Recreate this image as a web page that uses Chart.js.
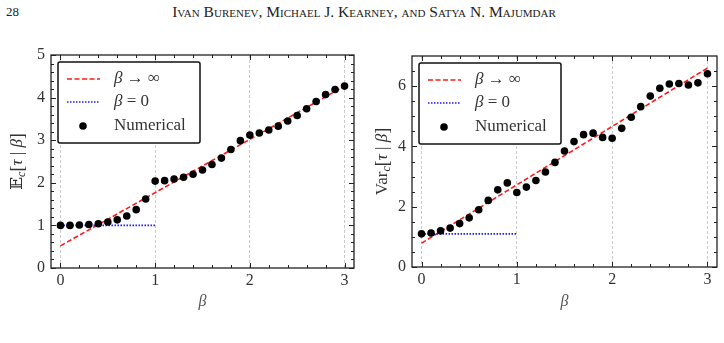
<!DOCTYPE html>
<html>
<head>
<meta charset="utf-8">
<script src="https://cdn.jsdelivr.net/npm/chart.js@4.4.0/dist/chart.umd.min.js"></script>
<style>
  body { margin: 0; background: #fff; width: 724px; height: 343px; overflow: hidden; position: relative; font-family: "Liberation Serif", serif; color: #222; }
  #pg { position: absolute; left: 6px; top: 4px; font-size: 13px; }
  #hd { position: absolute; left: 0; width: 728px; top: 3px; text-align: center; font-size: 15.5px; font-variant: small-caps; }
  .box { position: absolute; top: 0; width: 362px; height: 343px; }
</style>
</head>
<body>
<div id="pg">28</div>
<div id="hd">Ivan Burenev, Michael J. Kearney, and Satya N. Majumdar</div>
<div class="box" style="left:0"><canvas id="c1"></canvas></div>
<div class="box" style="left:362px"><canvas id="c2"></canvas></div>
<script>
const beta = [0, 0.1, 0.2, 0.3, 0.4, 0.5, 0.6, 0.7, 0.8, 0.9, 1.0, 1.1, 1.2, 1.3, 1.4, 1.5,
  1.6, 1.7, 1.8, 1.9, 2.0, 2.1, 2.2, 2.3, 2.4, 2.5, 2.6, 2.7, 2.8, 2.9, 3.0];

// left panel: mean
const meanNum = [1.0, 1.0, 1.01, 1.02, 1.04, 1.08, 1.13, 1.22, 1.37, 1.62, 2.04, 2.05, 2.09, 2.13, 2.2, 2.3,
  2.43, 2.58, 2.78, 2.99, 3.12, 3.17, 3.24, 3.33, 3.45, 3.58, 3.74, 3.91, 4.07, 4.19, 4.27];
const meanInfX = [0, 3];
const meanInfY = [0.52, 4.27];
const meanZeroX = [0, 1];
const meanZeroY = [1.0, 1.0];

// right panel: variance
const varNum = [1.1, 1.13, 1.2, 1.29, 1.44, 1.63, 1.9, 2.21, 2.56, 2.79, 2.47, 2.65, 2.87, 3.15, 3.47, 3.85,
  4.16, 4.39, 4.44, 4.3, 4.27, 4.6, 4.97, 5.32, 5.67, 5.93, 6.07, 6.09, 6.04, 6.11, 6.41];
const varInfX = [0, 3];
const varInfY = [0.79, 6.6];
const varZeroX = [0, 1];
const varZeroY = [1.1, 1.1];

const legendLabels = ['β → ∞', 'β = 0', 'Numerical'];

const xMajor = [0, 1, 2, 3];
const xMinor = [0.2, 0.4, 0.6, 0.8, 1.2, 1.4, 1.6, 1.8, 2.2, 2.4, 2.6, 2.8];
const meanMajor = [0, 1, 2, 3, 4, 5];
const meanMinor = [0.2, 0.4, 0.6, 0.8, 1.2, 1.4, 1.6, 1.8, 2.2, 2.4, 2.6, 2.8, 3.2, 3.4, 3.6, 3.8, 4.2, 4.4, 4.6, 4.8];
const varMajor = [0, 2, 4, 6];
const varMinor = [0.5, 1, 1.5, 2.5, 3, 3.5, 4.5, 5, 5.5, 6.5];

const SERIF = '"Liberation Serif", "DejaVu Serif", serif';

function pts(xs, ys) {
  return xs.map((x, i) => ({ x: x, y: ys[i] }));
}

// frame, inward ticks, legend box and y title
const decor = {
  id: 'decor',
  afterDraw(chart, args, o) {
    const ctx = chart.ctx;
    const a = chart.chartArea;
    const xs = chart.scales.x, ys = chart.scales.y;
    ctx.save();
    ctx.strokeStyle = '#222';
    ctx.lineWidth = 1;
    ctx.beginPath();
    const tick = (vals, len) => {
      vals.forEach(v => {
        const px = Math.round(xs.getPixelForValue(v)) + 0.5;
        ctx.moveTo(px, a.bottom); ctx.lineTo(px, a.bottom - len);
        ctx.moveTo(px, a.top); ctx.lineTo(px, a.top + len);
      });
    };
    const tickY = (vals, len) => {
      vals.forEach(v => {
        const py = Math.round(ys.getPixelForValue(v)) + 0.5;
        ctx.moveTo(a.left, py); ctx.lineTo(a.left + len, py);
        ctx.moveTo(a.right, py); ctx.lineTo(a.right - len, py);
      });
    };
    tick(xMajor, 5); tick(xMinor, 3);
    tickY(o.yMajor, 5); tickY(o.yMinor, 3);
    ctx.stroke();
    ctx.lineWidth = 1.3;
    ctx.strokeRect(a.left, a.top, a.right - a.left, a.bottom - a.top);

    // legend
    const bx = a.left + 7, by = a.top + 7, bw = 142, bh = 81;
    ctx.fillStyle = '#fff';
    ctx.strokeStyle = '#111';
    ctx.lineWidth = 1.5;
    ctx.beginPath();
    ctx.roundRect(bx, by, bw, bh, 2);
    ctx.fill();
    ctx.stroke();
    const rows = [17, 40, 64];
    const ds = chart.data.datasets;
    ds.forEach((d, i) => {
      const y = by + rows[i];
      if (d.showLine) {
        ctx.save();
        ctx.strokeStyle = d.borderColor;
        ctx.lineWidth = d.borderWidth;
        ctx.setLineDash(d.borderDash);
        ctx.beginPath();
        ctx.moveTo(bx + 9, y); ctx.lineTo(bx + 42, y);
        ctx.stroke();
        ctx.restore();
      } else {
        ctx.fillStyle = '#000';
        ctx.beginPath();
        ctx.arc(bx + 25, y, d.pointRadius, 0, Math.PI * 2);
        ctx.fill();
      }
      const lab = legendLabels[i];
      ctx.fillStyle = '#333';
      ctx.textBaseline = 'middle';
      ctx.textAlign = 'left';
      let tx = bx + 56;
      if (lab.startsWith('β')) {
        ctx.font = 'italic 17px ' + SERIF;
        ctx.fillText('β', tx, y);
        tx += ctx.measureText('β').width;
        ctx.font = '17px ' + SERIF;
        ctx.fillText(lab.slice(1), tx, y);
      } else {
        ctx.font = '17px ' + SERIF;
        ctx.fillText(lab, tx, y);
      }
    });

    // rotated y title with subscript
    ctx.translate(o.tx, (a.top + a.bottom) / 2);
    ctx.rotate(-Math.PI / 2);
    const parts = o.title;
    let w = 0;
    parts.forEach(p => { ctx.font = p.f; w += ctx.measureText(p.t).width; });
    let x = -w / 2;
    ctx.fillStyle = '#333';
    ctx.textBaseline = 'middle';
    parts.forEach(p => {
      ctx.font = p.f;
      ctx.fillText(p.t, x, p.dy || 0);
      x += ctx.measureText(p.t).width;
    });
    ctx.restore();
  }
};

function makeChart(id, num, infX, infY, zeroX, zeroY, yMax, yMajor, yMinor, geom, title) {
  return new Chart(document.getElementById(id), {
    type: 'line',
    data: {
      datasets: [{
        label: legendLabels[0],
        data: pts(infX, infY),
        borderColor: '#ff1a1a',
        borderWidth: 1.6,
        borderDash: [5, 2.5],
        pointRadius: 0,
        showLine: true,
        order: 2
      }, {
        label: legendLabels[1],
        data: pts(zeroX, zeroY),
        borderColor: '#1a1aff',
        borderWidth: 1.6,
        borderDash: [1.5, 1.5],
        pointRadius: 0,
        showLine: true,
        order: 1
      }, {
        label: legendLabels[2],
        data: pts(beta, num),
        showLine: false,
        pointRadius: 3.8,
        pointBackgroundColor: '#000',
        pointBorderWidth: 0,
        order: 0
      }]
    },
    options: {
      responsive: true,
      maintainAspectRatio: false,
      animation: false,
      layout: { padding: { top: geom.top, right: geom.right, left: 0, bottom: 0 } },
      plugins: {
        legend: { display: false },
        tooltip: { enabled: false },
        decor: { yMajor: yMajor, yMinor: yMinor, tx: geom.tx, title: title }
      },
      scales: {
        x: {
          type: 'linear',
          min: -0.1,
          max: 3.1,
          afterBuildTicks: s => { s.ticks = xMajor.map(v => ({ value: v })); },
          afterFit: s => { s.height = geom.xh; },
          grid: { color: '#bdbdbd', lineWidth: 0.8, drawTicks: false },
          border: { display: false, dash: [3, 2] },
          ticks: { color: '#333', padding: 3, font: { family: SERIF, size: 16 } },
          title: {
            display: true,
            text: 'β',
            color: '#555',
            padding: { top: 0, bottom: 32 },
            font: { family: SERIF, size: 16, style: 'italic' }
          }
        },
        y: {
          min: 0,
          max: yMax,
          afterBuildTicks: s => { s.ticks = yMajor.map(v => ({ value: v })); },
          afterFit: s => { s.width = geom.yw; },
          grid: { display: false, drawTicks: false },
          border: { display: false },
          ticks: { color: '#333', padding: 6, font: { family: SERIF, size: 16 } }
        }
      }
    },
    plugins: [decor]
  });
}

makeChart('c1', meanNum, meanInfX, meanInfY, meanZeroX, meanZeroY, 5, meanMajor, meanMinor,
  { top: 55, right: 8, xh: 75, yw: 51, tx: 18 },
  [{ t: '𝔼', f: '17px "DejaVu Serif", "DejaVu Sans", serif' },
   { t: 'c', f: 'italic 12px ' + SERIF, dy: 4 },
   { t: '[', f: '18px ' + SERIF },
   { t: 'τ', f: 'italic 17px ' + SERIF },
   { t: ' | ', f: '17px ' + SERIF },
   { t: 'β', f: 'italic 17px ' + SERIF },
   { t: ']', f: '18px ' + SERIF }]);

makeChart('c2', varNum, varInfX, varInfY, varZeroX, varZeroY, 7, varMajor, varMinor,
  { top: 56, right: 7, xh: 76, yw: 50, tx: 21 },
  [{ t: 'Var', f: '17px ' + SERIF },
   { t: 'c', f: 'italic 12px ' + SERIF, dy: 4 },
   { t: '[', f: '18px ' + SERIF },
   { t: 'τ', f: 'italic 17px ' + SERIF },
   { t: ' | ', f: '17px ' + SERIF },
   { t: 'β', f: 'italic 17px ' + SERIF },
   { t: ']', f: '18px ' + SERIF }]);
</script>
</body>
</html>
